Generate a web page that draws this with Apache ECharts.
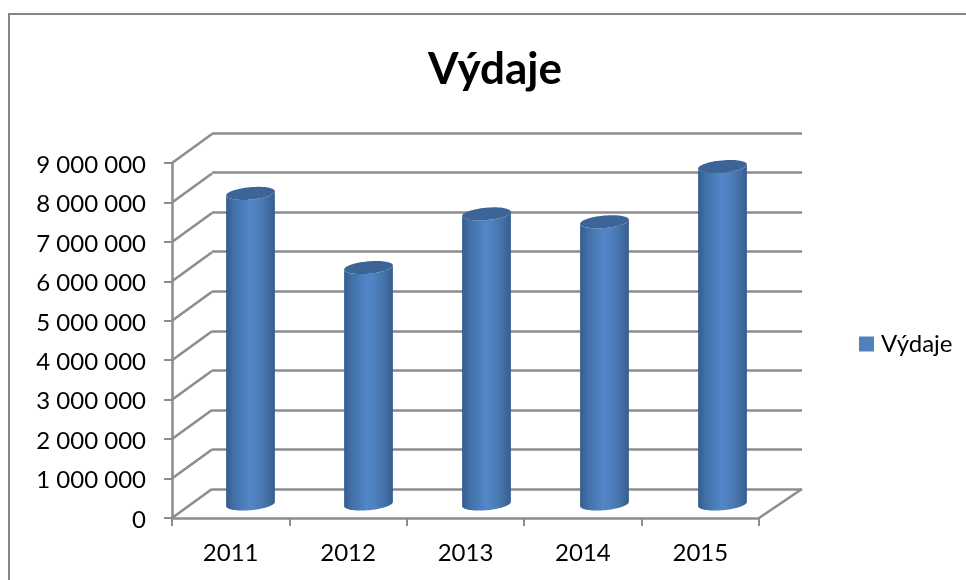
<!DOCTYPE html>
<html><head><meta charset="utf-8">
<script src="https://cdn.jsdelivr.net/npm/echarts@6/dist/echarts.min.js"></script>
<style>html,body{margin:0;padding:0;background:#fff}#c{width:966px;height:580px}</style>
</head><body><div id="c"></div>
<script>
const titleText = 'Výdaje';
const seriesName = 'Výdaje';
const categories = ['2011', '2012', '2013', '2014', '2015'];
const values = [7900000, 6020000, 7380000, 7180000, 8580000];
const yTicks = [0, 1000000, 2000000, 3000000, 4000000, 5000000, 6000000, 7000000, 8000000, 9000000];

const FONT = 'Lato, "Open Sans", sans-serif';
const GREY = '#8c8c8c';
const DEPTH = [40, -29];

function ellipsePts(cx, cy, rx, ry, rot, a0, a1, n) {
  const pts = [];
  for (let i = 0; i <= n; i++) {
    const a = a0 + (a1 - a0) * i / n;
    const x = rx * Math.cos(a), y = ry * Math.sin(a);
    pts.push([cx + x * Math.cos(rot) - y * Math.sin(rot), cy + x * Math.sin(rot) + y * Math.cos(rot)]);
  }
  return pts;
}

const lineStyle = { stroke: GREY, lineWidth: 2.5, fill: null };

const option = {
  animation: false,
  backgroundColor: '#fff',
  title: {
    text: titleText, left: 490, top: 43, textAlign: 'center',
    textStyle: { fontFamily: FONT, fontSize: 44, fontWeight: 'bold', color: '#000' }
  },
  legend: {
    data: [{ name: seriesName, icon: 'rect', itemStyle: { color: '#4f81bd' } }],
    left: 859, top: 332, padding: 0, itemWidth: 15, itemHeight: 15,
    textStyle: { fontFamily: FONT, fontSize: 24, color: '#000', padding: [0, 0, 0, 2] }
  },
  graphic: [{
    type: 'rect', silent: true, z: -10,
    shape: { x: 9, y: 14, width: 990, height: 620 },
    style: { fill: '#fff', stroke: '#868686', lineWidth: 2 }
  }],
  grid: [
    { left: 172, right: 207, top: 163, bottom: 62 },
    { left: 212, right: 164, top: 133, bottom: 91 },
    { left: 191.5, right: 184.5, top: 150, bottom: 75 },
    { left: 172, right: 207, top: 165, bottom: 60 }
  ],
  xAxis: [
    { type: 'category', gridIndex: 0, data: categories,
      axisLine: { lineStyle: { color: GREY, width: 2.5 } },
      axisTick: { show: true, length: 8, alignWithLabel: false, lineStyle: { color: GREY, width: 2 } },
      axisLabel: { fontFamily: FONT, fontSize: 24, color: '#000', margin: 23 },
      splitLine: { show: false } },
    { type: 'category', gridIndex: 1, data: categories, show: false },
    { type: 'category', gridIndex: 2, data: categories, show: false },
    { type: 'category', gridIndex: 3, data: categories, show: false }
  ],
  yAxis: [
    { type: 'value', gridIndex: 0, min: 0, max: 9000000, interval: 1000000,
      axisLine: { show: true, lineStyle: { color: GREY, width: 2.5 } },
      axisTick: { show: true, length: 8, lineStyle: { color: GREY, width: 2 } },
      axisLabel: { show: false },
      splitLine: { show: false } },
    { type: 'value', gridIndex: 1, min: 0, max: 9000000, interval: 1000000,
      axisLine: { show: false }, axisTick: { show: false }, axisLabel: { show: false },
      splitLine: { show: true, lineStyle: { color: GREY, width: 2.5 } } },
    { type: 'value', gridIndex: 2, min: 0, max: 9000000, interval: 1000000, show: false,
      splitLine: { show: false } },
    { type: 'value', gridIndex: 3, min: 0, max: 9000000, interval: 1000000,
      axisLine: { show: false }, axisTick: { show: false }, splitLine: { show: false },
      axisLabel: { fontFamily: FONT, fontSize: 24, color: '#000', margin: 26,
        formatter: v => String(v).replace(/\B(?=(\d{3})+$)/g, ' ') } }
  ],
  series: [
    { type: 'custom', xAxisIndex: 0, yAxisIndex: 0, z: 1, silent: true,
      data: yTicks.map(v => [0, v]),
      renderItem(params, api) {
        const p = api.coord([0, api.value(1)]);
        const hw = api.size([1, 0])[0] / 2;
        const x0 = p[0] - hw;
        const children = [{ type: 'line',
          shape: { x1: x0, y1: p[1], x2: x0 + DEPTH[0], y2: p[1] + DEPTH[1] }, style: lineStyle }];
        if (api.value(1) === 0) {
          const xr = x0 + hw * 2 * categories.length;
          children.push({ type: 'line',
            shape: { x1: xr, y1: p[1], x2: xr + 43, y2: p[1] + DEPTH[1] }, style: lineStyle });
        }
        return { type: 'group', children };
      } },
    { type: 'custom', name: seriesName, xAxisIndex: 2, yAxisIndex: 2, z: 3, silent: true,
      itemStyle: { color: '#4f81bd' },
      data: values.map((v, i) => [i, v]),
      renderItem(params, api) {
        const top = api.coord([api.value(0), api.value(1)]);
        const base = api.coord([api.value(0), 0]);
        const w = api.size([1, 0])[0] * 0.415;
        const cx = top[0];
        const yT = top[1], yB = base[1] - 1;
        const rx = w / 2, ry = 6.2, rot = -0.09;
        const body = ellipsePts(cx, yT, rx, ry, rot, Math.PI, 0, 40)
          .concat(ellipsePts(cx, yB, rx, ry, rot, 0, Math.PI, 40));
        const grad = { type: 'linear', x: 0, y: 0, x2: 1, y2: 0, colorStops: [
          { offset: 0, color: '#365c8d' }, { offset: 0.16, color: '#4270a8' },
          { offset: 0.48, color: '#5286c8' }, { offset: 0.62, color: '#4f81c0' },
          { offset: 0.86, color: '#426ea3' }, { offset: 1, color: '#365c8d' }] };
        return { type: 'group', children: [
          { type: 'polygon', shape: { points: body }, style: { fill: grad } },
          { type: 'polygon', shape: { points: ellipsePts(cx, yT, rx, ry, rot, 0, Math.PI * 2, 60) },
            style: { fill: '#3c6496' } }
        ] };
      } }
  ]
};
echarts.init(document.getElementById('c'), null, { renderer: 'canvas' }).setOption(option);
</script></body></html>
